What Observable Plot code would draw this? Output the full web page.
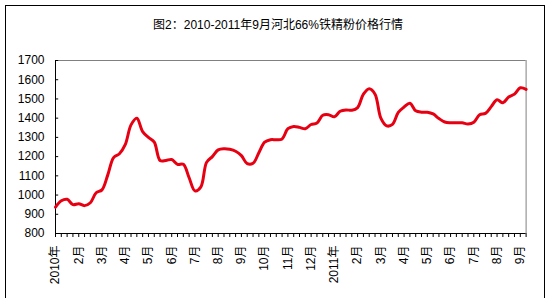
<!DOCTYPE html>
<html><head><meta charset="utf-8">
<script src="https://cdn.jsdelivr.net/npm/d3@7"></script>
<script src="https://cdn.jsdelivr.net/npm/@observablehq/plot@0.6"></script>
<style>
body{margin:0;background:#fff;font-family:"Liberation Sans",Arial,"Noto Sans CJK SC",sans-serif;}
#wrap{position:relative;width:552px;height:298px;overflow:hidden;}
#frame{position:absolute;left:5px;top:5px;width:538px;height:300px;border:1px solid #000;}
#title{position:absolute;left:0;top:17px;width:556px;text-align:center;font-size:12px;line-height:16px;color:#000;}
#chart{position:absolute;left:0;top:0;}
</style></head>
<body>
<div id="wrap"><div id="frame"></div><div id="title">图2：2010-2011年9月河北66%铁精粉价格行情</div><div id="chart"></div></div>
<script>
const weeks = d3.range(82);
const prices = [937,970,978,950,955,945,960,1012,1027,1105,1195,1215,1262,1365,1400,1330,1300,1275,1180,1180,
1185,1160,1160,1090,1022,1041,1170,1200,1235,1241,1238,1228,1205,1163,1165,1220,1275,1288,1288,1292,
1345,1357,1352,1345,1367,1375,1415,1418,1407,1436,1443,1441,1455,1525,1553,1525,1400,1360,1368,1430,
1458,1478,1438,1431,1431,1422,1398,1380,1376,1376,1376,1370,1379,1418,1425,1460,1496,1480,1510,1525,1558,1550];
const monthLabels = ["2010年","2月","3月","4月","5月","6月","7月","8月","9月","10月","11月","12月","2011年","2月","3月","4月","5月","6月","7月","8月","9月"];
const yTicks = d3.range(800, 1701, 100);
const data = weeks.map((w, i) => ({w, v: prices[i]}));
const labelAt = new Map(monthLabels.map((l, i) => [i * 4, l]));

const chart = Plot.plot({
  width: 552, height: 298,
  marginLeft: 55, marginRight: 26.4, marginTop: 60, marginBottom: 65,
  style: {fontFamily: '"Liberation Sans",Arial,"Noto Sans CJK SC",sans-serif', fontSize: "12px", color: "#000", background: "transparent"},
  x: {domain: [0, 81], axis: null},
  y: {domain: [800, 1700], axis: null},
  marks: [
    Plot.ruleY([1700], {stroke: "#808080", strokeWidth: 1}),
    Plot.ruleX([81], {stroke: "#808080", strokeWidth: 1}),
    Plot.axisY({ticks: yTicks, tickSize: 0, tickPadding: 11, tickFormat: d => String(d), fontSize: 12, label: null}),
    Plot.ruleY(yTicks, {x1: 0, x2: 0.55, stroke: "#000"}),
    Plot.axisX({ticks: weeks, tickSize: 4, tickFormat: () => "", stroke: "#000", label: null}),
    Plot.axisX({ticks: monthLabels.map((l, i) => i * 4), tickSize: 0, tickPadding: 12, tickRotate: -90, tickFormat: d => labelAt.get(d), fontSize: 12, label: null}),
    Plot.ruleX([0], {stroke: "#000"}),
    Plot.ruleY([800], {stroke: "#000"}),
    Plot.line(data, {x: "w", y: "v", stroke: "#e60012", strokeWidth: 3, curve: "catmull-rom"})
  ]
});
document.getElementById("chart").appendChild(chart);
</script>
</body></html>
